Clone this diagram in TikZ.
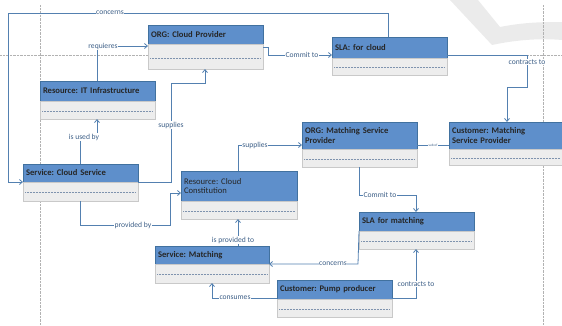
\documentclass[tikz,border=0pt]{standalone}
\usepackage{fontspec}
\setmainfont{Carlito}
\usetikzlibrary{arrows.meta}
\frenchspacing

\definecolor{hdrblue}{HTML}{5E8FCB}
\definecolor{hdredge}{HTML}{41719F}
\definecolor{bodyfill}{HTML}{EDEDED}
\definecolor{bodyedge}{HTML}{C9C9C9}
\definecolor{sepcol}{HTML}{7F93AE}
\definecolor{linecol}{HTML}{5380B0}
\definecolor{lbltext}{HTML}{3D5F87}

% one class box: name, x, y, width, header height, body height, title
\newcommand{\umlclass}[7]{%
  \pgfmathsetmacro\tw{#4-6}
  \node[hdr, text width=\tw pt, minimum height=#5pt] (#1) at (#2,#3) {#7};
  \node[bdy, minimum width=#4pt, minimum height=#6pt] (#1b) at (#1.south west) {};
  \draw[sep] ([xshift=2pt, yshift=-#6*0.55]#1b.north west) -- ([xshift=-2pt, yshift=-#6*0.55]#1b.north east);
}

\begin{document}
\begin{tikzpicture}[x=1pt, y=-1pt,
  hdr/.style={draw=hdredge, fill=hdrblue, anchor=north west, align=left, inner sep=3pt, outer sep=0pt, line width=0.6pt, font=\fontsize{8.6}{9.6}\selectfont\bfseries, text=black!85},
  bdy/.style={draw=bodyedge, fill=bodyfill, anchor=north west, inner sep=0pt, outer sep=0pt, line width=0.6pt},
  sep/.style={draw=sepcol, densely dotted, line width=0.5pt},
  conn/.style={draw=linecol, line width=0.8pt, -{Straight Barb[length=3pt,width=5pt]}},
  link/.style={draw=linecol, line width=0.8pt},
  lbl/.style={fill=white, inner sep=0.6pt, text=lbltext, font=\fontsize{7.6}{8.6}\selectfont},
  guide/.style={draw=black!30, densely dotted, line width=0.4pt}]
\useasboundingbox (0,0) rectangle (562,325);

% page background: watermark and guide lines
\fill[black!8] (450,0) -- (478,0) -- (500,27) .. controls (525,22) and (545,22) .. (562,22) -- (562,40) .. controls (540,38) and (515,40) .. (492,45) -- cycle;
\draw[guide] (40,5) -- (40,325);
\draw[guide] (0,55) -- (148,55);
\draw[guide] (527,55) -- (562,55);
\draw[guide] (543,5) -- (543,325);

% classes
\umlclass{cp}{148}{25}{115}{19}{25}{ORG: Cloud Provider}
\umlclass{iti}{40}{81}{115}{20}{18}{Resource: IT Infrastructure}
\umlclass{slac}{332}{37}{115}{21}{17}{SLA: for cloud}
\umlclass{omsp}{302}{122}{115}{27}{18}{ORG: Matching Service\\Provider}
\umlclass{cmsp}{449}{122}{113}{27}{16}{Customer: Matching\\Service Provider}
\umlclass{scs}{23}{164}{115}{18}{19}{Service: Cloud Service}
\umlclass{rcc}{181}{171}{116}{30}{18}{\mdseries Resource: Cloud\\\mdseries Constitution}
\umlclass{slam}{359}{212}{115}{19}{18}{SLA for matching}
\umlclass{sm}{155}{246}{114}{18}{19}{Service: Matching}
\umlclass{cpp}{277}{280}{115}{19}{18}{Customer: Pump producer}

% connectors
\draw[conn] ([xshift=56]slac.north west) |- (8,13) -- (8,182) -- (scs.south west);
\draw[conn] ([xshift=57]iti.north west) |- ([yshift=-21]cp.north west);
\draw[conn] ([yshift=-22]cp.north east) -- (268,47) |- ([yshift=-18]slac.north west);
\draw[conn] ([yshift=-18]slac.north east) -- (527,55) -- (527,87) -| ([xshift=58]cmsp.north west);
\draw[conn] ([xshift=57]scs.north west) -- (80,137) -| ([xshift=57]itib.south west);
\draw[conn] (scs.south east) -- (171,182) -- (171,83) -| ([xshift=57]cpb.south west);
\draw[conn] ([xshift=57]rcc.north west) |- ([yshift=-23]omsp.north west);
\draw[link] ([yshift=-23]omsp.north east) -- ([yshift=-23]cmsp.north west);
\draw[conn] ([xshift=57]scsb.south west) |- (170,225) |- ([yshift=-22]rcc.north west);
\draw[conn] ([xshift=57]omspb.south west) |- (416,195) -- ([xshift=57]slam.north west);
\draw[conn] ([xshift=83]sm.north west) -- ([xshift=57]rccb.south west);
\draw[conn] (slam.south west) -- (358,264) -- (sm.south east);
\draw[conn] ([yshift=-18]cpp.north east) -| ([xshift=57]slamb.south west);
\draw[conn] ([yshift=-18]cpp.north west) -| ([xshift=57]smb.south west);

% connector labels
\node[lbl] (lconc) at (110,13) {concerns};
\node[lbl] (lreq) at (103,46) {requieres};
\node[lbl] (lcom) at (302,55) {Commit to};
\node[lbl] (lcon) at (527,62) {contracts to};
\node[lbl] (luse) at (84,137) {is used by};
\node[lbl] (lsup) at (171,125) {supplies};
\node[lbl] (lsupm) at (255,145) {supplies};
\node[lbl, font=\fontsize{3.5}{4}\selectfont] (lsub) at (433,145) {sub of};
\node[lbl] (lprov) at (133,225) {provided by};
\node[lbl] (lcomm) at (380,195) {Commit to};
\node[lbl] (lipt) at (233,240) {is provided to};
\node[lbl] (lconm) at (333,264) {concerns};
\node[lbl] (lcontm) at (416,284) {contracts to};
\node[lbl] (lcons) at (235,298) {consumes};
\end{tikzpicture}
\end{document}
